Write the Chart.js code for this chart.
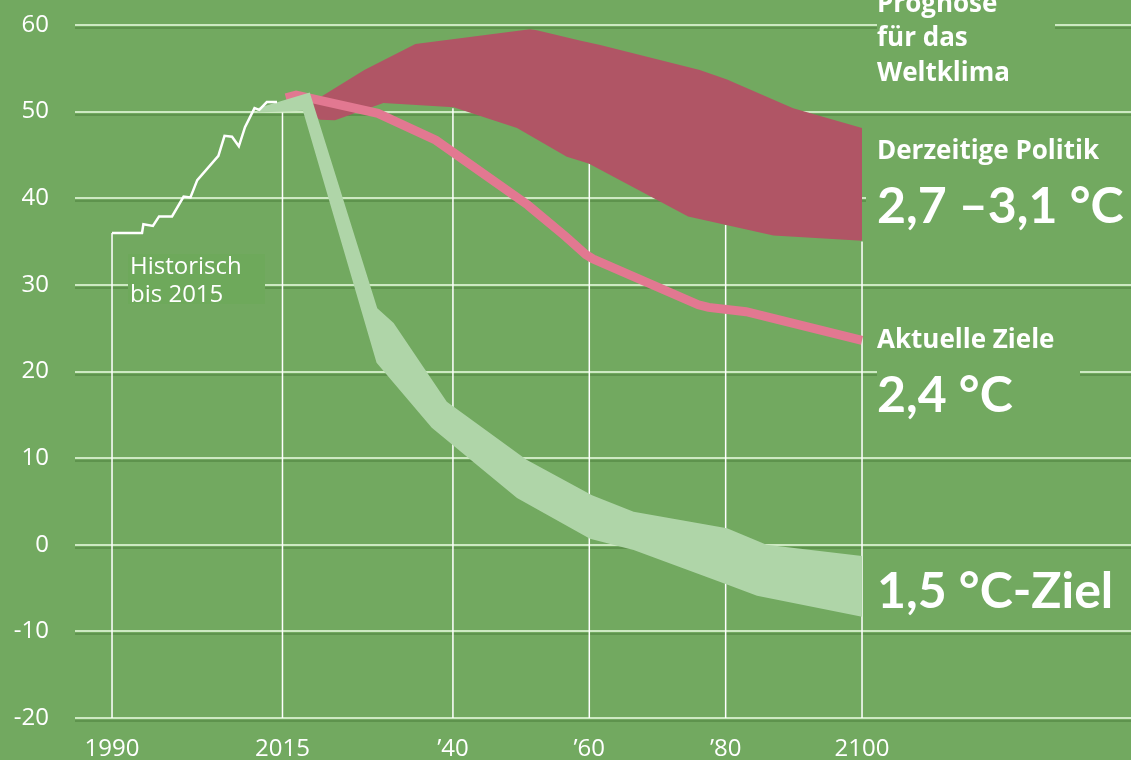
<!DOCTYPE html>
<html>
<head>
<meta charset="utf-8">
<script src="https://cdn.jsdelivr.net/npm/chart.js@4.4.1/dist/chart.umd.min.js"></script>
<style>
  html, body { margin: 0; padding: 0; background: #72a960; }
  #wrap { width: 1131px; height: 760px; position: relative; }
</style>
</head>
<body>
<div id="wrap"><canvas id="chart"></canvas></div>
<script>
// x axis ticks
const tickYears = [1990, 2015, 2040, 2060, 2080, 2100];
const tickLabels = ["1990", "2015", "’40", "’60", "’80", "2100"];
// top of the white drop lines at each tick year
const dropTops = [36, 49.9, 50.4, 44.0, 36.9, 35.0];

// historical emissions
const histYears = [1990, 1994.4, 1994.6, 1996, 1996.9, 1998.8, 2000.5, 2001.5, 2002.5, 2005.6, 2006.5, 2007.6, 2008.6, 2009.5, 2010.9, 2011.6, 2012.7, 2014.2];
const histValues = [36, 36, 37, 36.8, 37.9, 37.9, 40.2, 40.1, 42.1, 44.9, 47.2, 47.1, 46.0, 48.2, 50.4, 50.2, 51.1, 51.1];

// Derzeitige Politik (band)
const politikUpperYears = [2017.5, 2020, 2027, 2034.5, 2051.3, 2052.3, 2058.6, 2061.6, 2076.2, 2080.2, 2089.9, 2100];
const politikUpper = [51.0, 51.4, 54.8, 57.8, 59.5, 59.4, 58.2, 57.7, 54.8, 53.7, 50.4, 48.1];
const politikLowerYears = [2017.5, 2020.5, 2022.7, 2029.8, 2040.1, 2049.4, 2056.7, 2059.9, 2074.5, 2087, 2100];
const politikLower = [50.5, 49.05, 49.0, 51.0, 50.5, 48.1, 44.8, 44.0, 37.9, 35.7, 35.1];

// Aktuelle Ziele (line)
const zieleYears = [2015.5, 2017, 2029, 2037.5, 2051, 2056.5, 2059.5, 2060.5, 2076, 2077.5, 2083, 2100];
const zieleValues = [51.6, 51.9, 49.8, 46.7, 39.2, 35.6, 33.5, 33.0, 27.7, 27.4, 26.9, 23.6];

// 1,5 °C-Ziel (band)
const zielUpperYears = [2011.3, 2019, 2028.9, 2031.3, 2039.1, 2050.8, 2060.4, 2066.5, 2080.2, 2086, 2100];
const zielUpper = [50.4, 52.2, 27.3, 25.6, 16.5, 9.8, 5.7, 3.8, 1.9, 0.0, -1.3];
const zielLowerYears = [2011.3, 2018, 2028.8, 2036.9, 2049.4, 2060.1, 2066.5, 2080.2, 2084.6, 2100];
const zielLower = [49.9, 50.1, 21.0, 13.5, 5.4, 0.7, -0.6, -4.6, -5.9, -8.3];

const BG = '#72a960';
const pts = (xs, ys) => xs.map((x, i) => ({ x: x, y: ys[i] }));

const datasets = [
  { data: pts(histYears, histValues), borderColor: '#ffffff', borderWidth: 2.5, order: 0 },
  { data: pts(zielUpperYears, zielUpper), borderWidth: 0, backgroundColor: '#afd5a8', fill: '+1', order: 1 },
  { data: pts(zielLowerYears, zielLower), borderWidth: 0, order: 2 },
  { data: pts(zieleYears, zieleValues), borderColor: '#e27891', borderWidth: 9, borderCapStyle: 'butt', order: 3 },
  { data: pts(politikUpperYears, politikUpper), borderWidth: 0, backgroundColor: '#b05565', fill: '+1', order: 4 },
  { data: pts(politikLowerYears, politikLower), borderWidth: 0, order: 5 }
];
tickYears.forEach(function (yr, i) {
  datasets.push({ data: [{ x: yr, y: dropTops[i] }, { x: yr, y: -20 }], borderColor: '#ffffff', borderWidth: 1.5, order: 6 });
});

const gridShadow = {
  id: 'gridShadow',
  beforeDatasetsDraw(chart) {
    const ctx = chart.ctx, a = chart.chartArea, y = chart.scales.y;
    ctx.save();
    ctx.strokeStyle = 'rgba(70,120,55,0.45)';
    ctx.lineWidth = 2;
    y.ticks.forEach(function (t) {
      const py = Math.round(y.getPixelForValue(t.value)) + 3;
      ctx.beginPath(); ctx.moveTo(a.left, py); ctx.lineTo(a.right, py); ctx.stroke();
    });
    ctx.restore();
  }
};

const labels = {
  id: 'labels',
  afterDatasetsDraw(chart) {
    const ctx = chart.ctx;
    ctx.save();
    ctx.fillStyle = BG;
    [[877, 0, 178, 100], [866, 128, 265, 108], [877, 322, 203, 95], [866, 562, 265, 65]].forEach(function (r) {
      ctx.fillRect(r[0], r[1], r[2], r[3]);
    });
    ctx.fillStyle = '#6ea95b';
    ctx.fillRect(128, 254, 137, 50);
    ctx.fillStyle = '#ffffff';
    ctx.textAlign = 'left';
    ctx.textBaseline = 'alphabetic';
    ctx.font = '700 26px "Open Sans"';
    ctx.fillText('Prognose', 877, 12);
    ctx.fillText('für das', 877, 46);
    ctx.fillText('Weltklima', 877, 81);
    ctx.fillText('Derzeitige Politik', 877, 159);
    ctx.fillText('Aktuelle Ziele', 877, 348);
    ctx.font = '700 50px Lato';
    ctx.fillText('2,7 –3,1 °C', 877, 223);
    ctx.fillText('2,4 °C', 877, 412);
    ctx.font = '700 50px Lato';
    ctx.fillText('1,5 °C-Ziel', 877, 608);
    ctx.font = '400 24px "Open Sans"';
    ctx.fillText('Historisch', 130, 274);
    ctx.fillText('bis 2015', 130, 302);
    ctx.restore();
  }
};

new Chart(document.getElementById('chart'), {
  type: 'line',
  data: { datasets: datasets },
  options: {
    responsive: true,
    maintainAspectRatio: false,
    animation: false,
    layout: { padding: { top: 25, left: 0, right: 0, bottom: 0 } },
    elements: { point: { radius: 0 }, line: { tension: 0 } },
    plugins: { legend: { display: false }, tooltip: { enabled: false } },
    scales: {
      x: {
        type: 'linear',
        min: 1984.57,
        max: 2139.45,
        afterBuildTicks: function (s) { s.ticks = tickYears.map(v => ({ value: v })); },
        afterFit: function (s) { s.height = 42; s.paddingLeft = 0; s.paddingRight = 0; },
        grid: { display: false },
        border: { display: false },
        ticks: {
          autoSkip: false, maxRotation: 0, padding: 9, color: '#ffffff',
          font: { family: 'Open Sans', size: 24 },
          callback: function (v) { return tickLabels[tickYears.indexOf(v)]; }
        }
      },
      y: {
        min: -20,
        max: 60,
        afterFit: function (s) { s.width = 75; s.paddingTop = 0; s.paddingBottom = 0; },
        grid: { color: 'rgba(215,240,205,0.9)', lineWidth: 2, drawTicks: false },
        border: { display: false },
        ticks: { stepSize: 10, padding: 26, color: '#ffffff', font: { family: 'Open Sans', size: 24 } }
      }
    }
  },
  plugins: [gridShadow, labels]
});
</script>
</body>
</html>
